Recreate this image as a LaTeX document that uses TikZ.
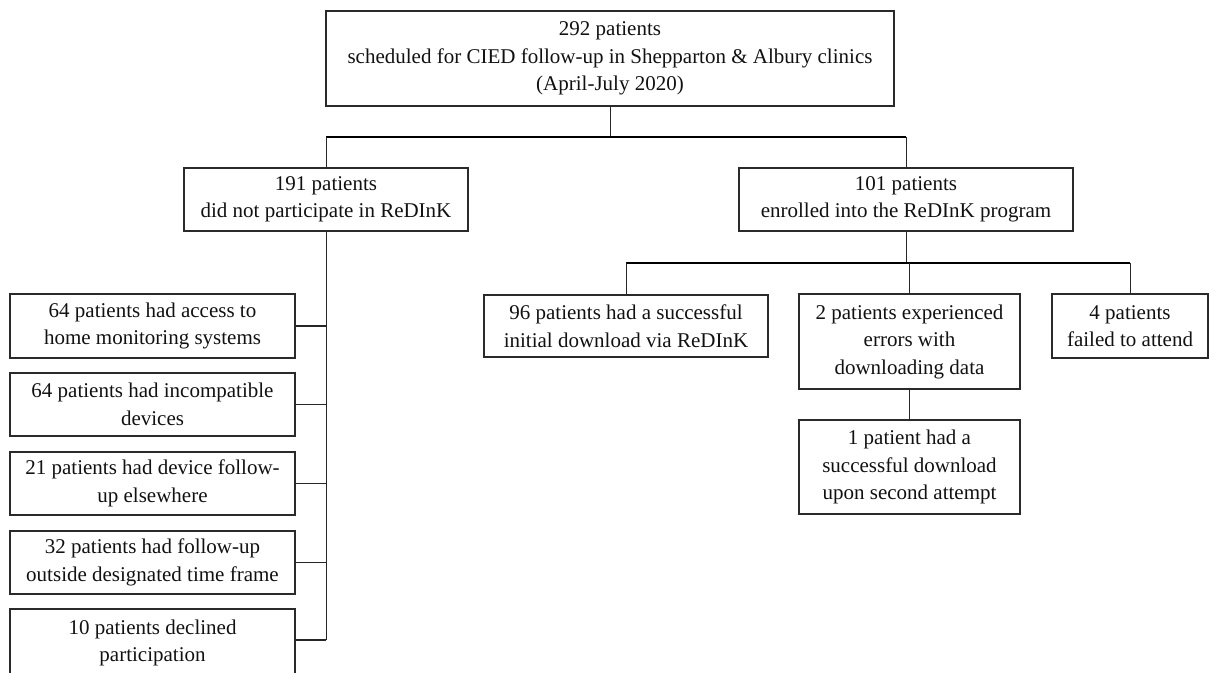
\documentclass[tikz,border=0pt]{standalone}
\usepackage{fontspec}
\setmainfont{Liberation Serif}
\definecolor{ink}{HTML}{111111}
\definecolor{edge}{HTML}{2A2A2A}
\begin{document}
\begin{tikzpicture}[x=1pt,y=-1pt,
  box/.style={draw=edge, line width=1.3pt, inner sep=0pt, align=center, text=ink,
    font=\fontsize{21}{27.5}\selectfont},
  hline/.style={draw=black, line width=2pt},
  vline/.style={draw=black!85, line width=1pt},
  cline/.style={draw=black!85, line width=1.6pt}]
\useasboundingbox (0,0) rectangle (1209,672);
% top level
\node[box, minimum width=568pt, minimum height=95pt] (top) at (610,58.5)
  {292 patients\\scheduled for CIED follow-up in Shepparton \& Albury clinics\\(April-July 2020)};
\node[box, minimum width=284pt, minimum height=63pt] (n191) at (326,199.5)
  {191 patients\\did not participate in ReDInK};
\node[box, minimum width=334pt, minimum height=63pt] (n101) at (906,199.5)
  {101 patients\\enrolled into the ReDInK program};
% left column
\node[box, minimum width=285pt, minimum height=64pt] (l1) at (152.5,326)
  {64 patients had access to\\home monitoring systems};
\node[box, minimum width=285pt, minimum height=63pt] (l2) at (152.5,404.5)
  {64 patients had incompatible\\devices};
\node[box, minimum width=285pt, minimum height=63pt] (l3) at (152.5,483.5)
  {21 patients had device follow-\\up elsewhere};
\node[box, minimum width=285pt, minimum height=63pt] (l4) at (152.5,562.5)
  {32 patients had follow-up\\outside designated time frame};
\node[box, minimum width=285pt, minimum height=68pt] (l5) at (152.5,643)
  {10 patients declined\\participation};
% right children
\node[box, minimum width=284pt, minimum height=62pt] (c96) at (626,326)
  {96 patients had a successful\\initial download via ReDInK};
\node[box, minimum width=221pt, minimum height=95pt] (c2) at (909.5,341.5)
  {2 patients experienced\\errors with\\downloading data};
\node[box, minimum width=156pt, minimum height=64pt] (c4) at (1130,326)
  {4 patients\\failed to attend};
\node[box, minimum width=221pt, minimum height=94pt] (c1) at (909.5,467)
  {1 patient had a\\successful download\\upon second attempt};
% junctions
\coordinate (ja) at (0,137);
\coordinate (jb) at (0,263);
\draw[vline] (top.south) -- (top.south |- ja);
\draw[hline] (n191.north |- ja) -- (n101.north |- ja);
\draw[vline] (n191.north |- ja) -- (n191.north);
\draw[vline] (n101.north |- ja) -- (n101.north);
% left column connectors
\coordinate (lend) at (0,640);
\draw[vline] (n191.south) -- (n191.south |- lend);
\foreach \n in {l1,l2,l3,l4}
  \draw[cline] (\n.east) -- (\n.east -| n191.south);
\draw[cline] (l5.east |- lend) -- (n191.south |- lend);
% right connectors
\draw[vline] (n101.south) -- (n101.south |- jb);
\draw[hline] (c96.north |- jb) -- (c4.north |- jb);
\draw[vline] (c96.north |- jb) -- (c96.north);
\draw[vline] (c2.north |- jb) -- (c2.north);
\draw[vline] (c4.north |- jb) -- (c4.north);
\draw[vline] (c2.south) -- (c1.north);
\end{tikzpicture}
\end{document}
